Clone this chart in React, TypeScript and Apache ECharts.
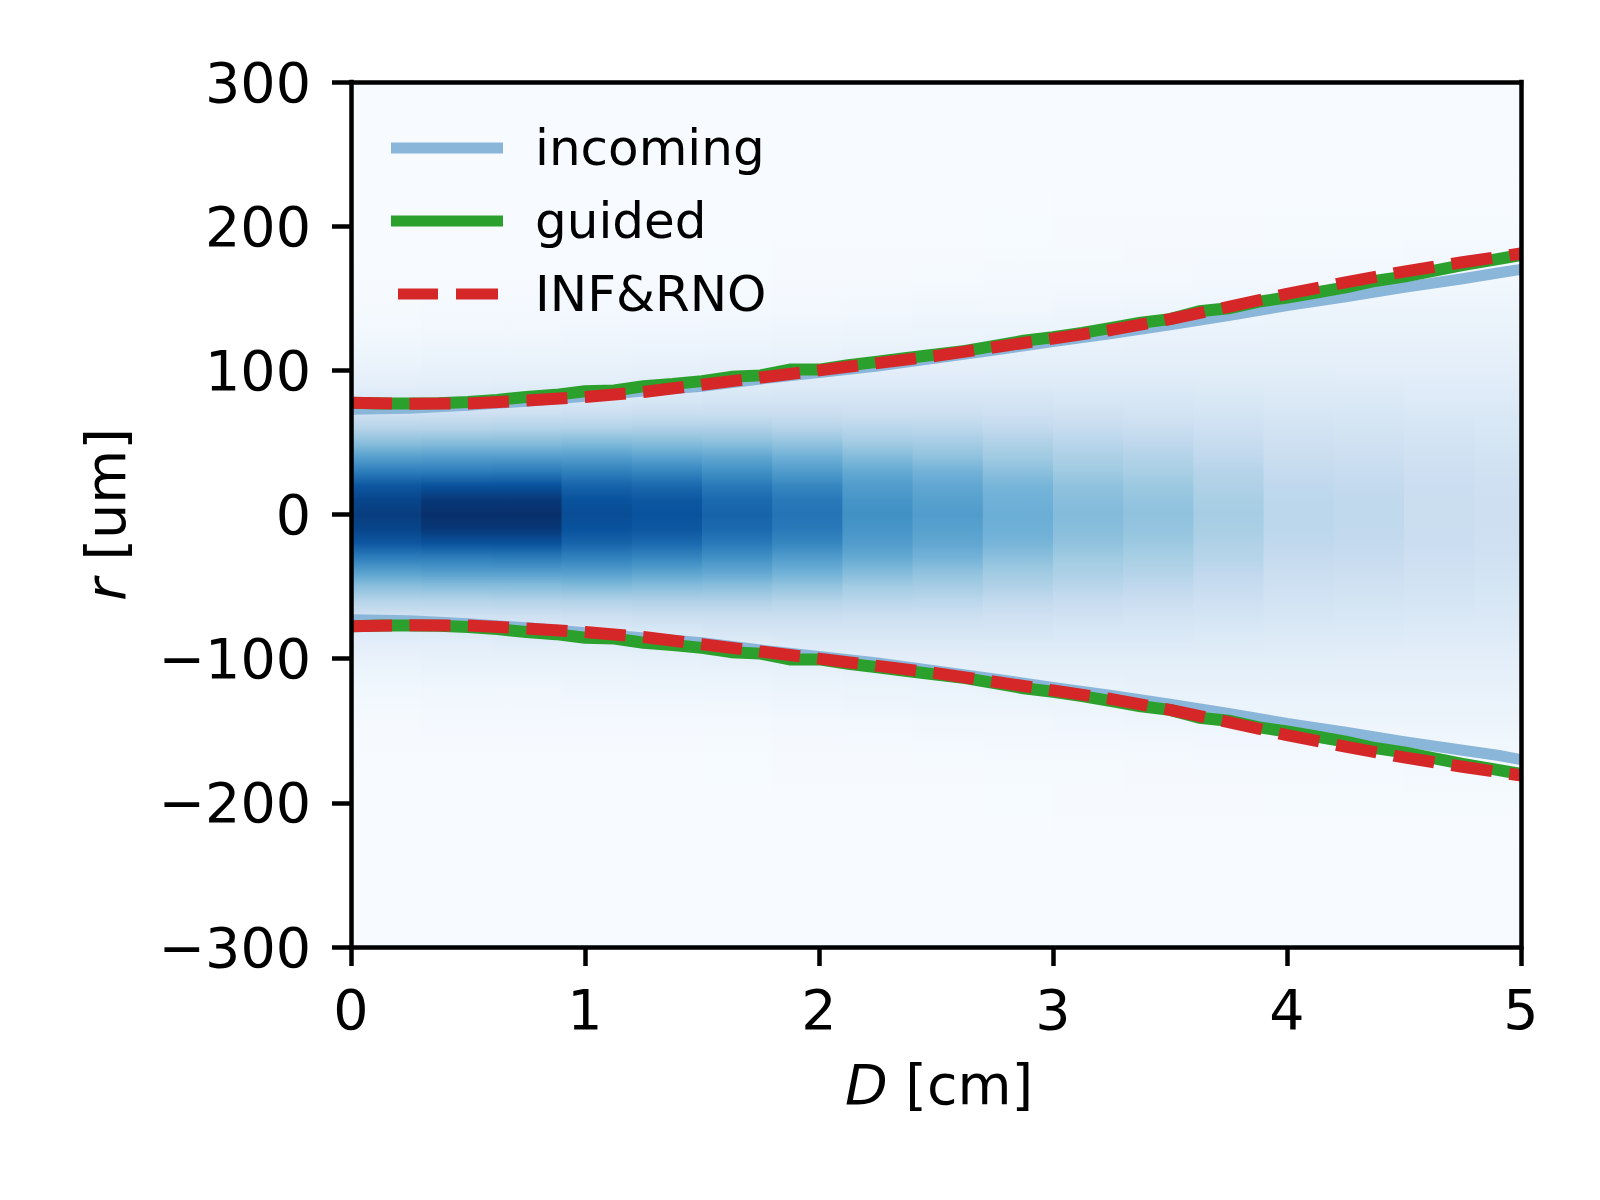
import React, { useEffect, useRef } from "react";
import * as echarts from "echarts";

const radii = [0, 10, 20, 30, 40, 50, 60, 70, 80, 90, 100, 120, 140, 160, 180, 200, 240, 300];
const columnWidth = 0.3;
const col00 = [0.95, 0.92, 0.85, 0.7, 0.56, 0.42, 0.3, 0.2, 0.14, 0.1, 0.07, 0.035, 0.015, 0.005, 0, 0, 0, 0];
const col01 = [1, 0.97, 0.87, 0.7, 0.57, 0.43, 0.3, 0.21, 0.15, 0.1, 0.08, 0.04, 0.02, 0.005, 0, 0, 0, 0];
const col02 = [1, 0.97, 0.87, 0.71, 0.57, 0.43, 0.31, 0.21, 0.15, 0.11, 0.08, 0.04, 0.02, 0.006, 0, 0, 0, 0];
const col03 = [0.89, 0.87, 0.8, 0.69, 0.57, 0.44, 0.31, 0.22, 0.15, 0.11, 0.08, 0.045, 0.02, 0.006, 0, 0, 0, 0];
const col04 = [0.87, 0.85, 0.78, 0.67, 0.55, 0.43, 0.32, 0.23, 0.16, 0.12, 0.085, 0.05, 0.02, 0.007, 0.002, 0, 0, 0];
const col05 = [0.8, 0.78, 0.72, 0.63, 0.53, 0.42, 0.32, 0.23, 0.17, 0.12, 0.09, 0.05, 0.025, 0.01, 0.003, 0, 0, 0];
const col06 = [0.74, 0.72, 0.67, 0.58, 0.49, 0.4, 0.3, 0.23, 0.17, 0.13, 0.095, 0.055, 0.03, 0.012, 0.004, 0, 0, 0];
const col07 = [0.63, 0.61, 0.58, 0.52, 0.44, 0.36, 0.29, 0.22, 0.17, 0.13, 0.1, 0.06, 0.035, 0.015, 0.005, 0.002, 0, 0];
const col08 = [0.58, 0.56, 0.53, 0.48, 0.41, 0.35, 0.28, 0.22, 0.17, 0.13, 0.1, 0.065, 0.04, 0.018, 0.006, 0.002, 0, 0];
const col09 = [0.5, 0.49, 0.47, 0.42, 0.37, 0.32, 0.26, 0.21, 0.17, 0.13, 0.105, 0.07, 0.04, 0.02, 0.008, 0.003, 0, 0];
const col10 = [0.44, 0.43, 0.41, 0.37, 0.33, 0.29, 0.24, 0.2, 0.16, 0.13, 0.105, 0.07, 0.045, 0.02, 0.01, 0.004, 0, 0];
const col11 = [0.41, 0.4, 0.38, 0.34, 0.31, 0.27, 0.23, 0.19, 0.16, 0.13, 0.105, 0.075, 0.05, 0.025, 0.012, 0.005, 0, 0];
const col12 = [0.35, 0.34, 0.32, 0.3, 0.27, 0.24, 0.21, 0.18, 0.15, 0.125, 0.105, 0.075, 0.05, 0.03, 0.014, 0.006, 0, 0];
const col13 = [0.28, 0.28, 0.27, 0.25, 0.23, 0.21, 0.19, 0.165, 0.14, 0.12, 0.105, 0.075, 0.055, 0.03, 0.016, 0.008, 0.001, 0];
const col14 = [0.265, 0.265, 0.255, 0.24, 0.22, 0.2, 0.18, 0.16, 0.14, 0.12, 0.1, 0.075, 0.055, 0.032, 0.018, 0.009, 0.001, 0];
const col15 = [0.23, 0.23, 0.225, 0.215, 0.2, 0.185, 0.17, 0.15, 0.13, 0.115, 0.1, 0.075, 0.055, 0.035, 0.02, 0.01, 0.002, 0];
const col16 = [0.215, 0.215, 0.21, 0.2, 0.19, 0.175, 0.16, 0.145, 0.13, 0.115, 0.1, 0.075, 0.055, 0.035, 0.02, 0.01, 0.002, 0];
const columns = [col00, col01, col02, col03, col04, col05, col06, col07, col08, col09, col10, col11, col12, col13, col14, col15, col16];
const blues = ["#f7fbff", "#deebf7", "#c6dbef", "#9ecae1", "#6baed6", "#4292c6", "#2171b5", "#08519c", "#08306b"];

const guidedD = [0, 0.125, 0.25, 0.375, 0.5, 0.625, 0.75, 0.875, 1, 1.125, 1.25, 1.375, 1.5, 1.625, 1.75, 1.875, 2, 2.125, 2.25, 2.375, 2.5, 2.625, 2.75, 2.875, 3, 3.125, 3.25, 3.375, 3.5, 3.625, 3.75, 3.875, 4, 4.125, 4.25, 4.375, 4.5, 4.625, 4.75, 4.875, 5];
const guidedUpper = [77.5, 77, 77, 77.2, 78, 79.5, 81.5, 83, 85.5, 86, 89, 90.5, 92.5, 95.5, 96.5, 100.5, 100.5, 103.5, 106, 108.5, 111, 113.5, 117, 120.5, 123, 126, 129.5, 133, 135.5, 141, 143, 147.5, 150.5, 154, 157.5, 162, 165, 169, 173, 176.5, 180];
const guidedLower = [-77.5, -77, -77, -77.2, -78, -79.5, -81.5, -83, -85.5, -86, -89, -90.5, -92.5, -95.5, -96.5, -100.5, -100.5, -103.5, -106, -108.5, -111, -113.5, -117, -120.5, -123, -126, -129.5, -133, -135.5, -141, -143, -147.5, -150.5, -154, -157.5, -162, -165, -169, -173, -176.5, -180];

const incomingD = [0, 0.25, 0.5, 0.75, 1, 1.25, 1.5, 1.75, 2, 2.25, 2.5, 2.75, 3, 3.25, 3.5, 3.75, 4, 4.25, 4.5, 4.75, 4.9, 5];
const incomingUpper = [73, 73.7, 75.8, 78.6, 82, 85.6, 89, 94, 98.5, 103, 108.5, 114, 120, 125.5, 131.5, 138, 145, 151, 157.5, 163.5, 167.5, 170];
const incomingLower = [-73, -73.7, -75.8, -78.6, -82, -85.6, -89, -94, -98.5, -103, -108.5, -114, -120, -125.5, -131.5, -138, -145, -151, -157.5, -163.5, -167, -170];

const infD = [0, 0.25, 0.5, 0.75, 1, 1.25, 1.5, 1.75, 2, 2.25, 2.5, 2.75, 3, 3.25, 3.5, 3.75, 4, 4.25, 4.5, 4.75, 5];
const infUpper = [77.5, 76.8, 77, 79, 81.5, 85, 90, 95, 100, 105, 110, 116, 122, 128, 135.5, 144, 153, 161, 168.5, 175, 181];
const infLower = [-77.5, -76.8, -77, -79, -81.5, -85, -90, -95, -100, -105, -110, -116, -122, -128, -135.5, -144, -153, -161, -168.5, -175, -181];

const xTicks = [0, 1, 2, 3, 4, 5];
const yTicks = [-300, -200, -100, 0, 100, 200, 300];

const FONT = "DejaVu Sans";
const BLACK = "#000000";
const SPINE = 4.5;
const solidIcon = "path://M0 0H112V11H0Z";
const dashedIcon = "path://M0 0L0 11Z M7 0H47V11H7Z M65 0H107V11H65Z M112 0L112 11Z";

function hex(c: string) {
  return [1, 3, 5].map((i) => parseInt(c.slice(i, i + 2), 16));
}
function shade(v: number) {
  const t = Math.max(0, Math.min(1, v)) * (blues.length - 1);
  const i = Math.min(blues.length - 2, Math.floor(t));
  const a = hex(blues[i]);
  const b = hex(blues[i + 1]);
  const f = t - i;
  const rgb = a.map((x, k) => Math.round(x + (b[k] - x) * f));
  return `rgb(${rgb[0]},${rgb[1]},${rgb[2]})`;
}
function stopsFor(profile: number[]) {
  const top = radii[radii.length - 1];
  const upper = radii.map((r, i) => ({ offset: (top - r) / (2 * top), color: shade(profile[i]) })).reverse();
  const lower = radii.slice(1).map((r, i) => ({ offset: (top + r) / (2 * top), color: shade(profile[i + 1]) }));
  return upper.concat(lower);
}
const pairs = (xs: number[], ys: number[]) => xs.map((x, i) => [x, ys[i]]);

const lineBase = { type: "line", showSymbol: false, symbol: "none", smooth: false, silent: true, xAxisIndex: 0, yAxisIndex: 0 };
const incomingStyle = { color: "#8ab6d9", width: 11, cap: "butt", join: "round" };
const guidedStyle = { color: "#2ca02c", width: 12, cap: "butt", join: "round" };
const infStyle = { color: "#d62728", width: 12, type: [41, 17.5], cap: "butt", join: "round" };

export default function App() {
  const ref = useRef<HTMLDivElement>(null);
  useEffect(() => {
    const chart = echarts.init(ref.current!, undefined, { renderer: "svg" });
    const frame = { show: true, onZero: false, lineStyle: { color: BLACK, width: SPINE, cap: "square" } };
    chart.setOption({
      animation: false,
      backgroundColor: "#ffffff",
      textStyle: { fontFamily: FONT },
      grid: { left: 351, right: 79, top: 82, bottom: 253, containLabel: false },
      legend: {
        left: 386,
        top: 118,
        orient: "vertical",
        itemWidth: 112,
        itemHeight: 50,
        itemGap: 23,
        symbolKeepAspect: true,
        data: [
          { name: "incoming", icon: solidIcon, itemStyle: { color: incomingStyle.color, borderWidth: 0 } },
          { name: "guided", icon: solidIcon, itemStyle: { color: guidedStyle.color, borderWidth: 0 } },
          { name: "INF&RNO", icon: dashedIcon, itemStyle: { color: infStyle.color, borderWidth: 0 } },
        ],
        textStyle: { fontFamily: FONT, fontSize: 50, color: BLACK, padding: [0, 0, 0, 27] },
        selectedMode: false,
      },
      xAxis: [
        {
          type: "value", min: 0, max: 5, interval: 1, position: "bottom", z: 10,
          axisLine: frame,
          axisTick: { show: true, length: 19, lineStyle: { color: BLACK, width: SPINE } },
          axisLabel: { fontFamily: FONT, fontSize: 55.5, color: BLACK, margin: 34, formatter: (v: number) => (xTicks.includes(v) ? String(v) : "") },
          splitLine: { show: false },
          name: "{i|D} [cm]",
          nameLocation: "middle",
          nameGap: 109,
          nameTextStyle: { fontFamily: FONT, fontSize: 55.5, color: BLACK, padding: [0, 0, 0, 6], rich: { i: { fontFamily: FONT, fontStyle: "italic", fontSize: 55.5, color: BLACK } } },
        },
        { type: "value", min: 0, max: 5, interval: 1, position: "top", z: 10, axisLine: frame, axisTick: { show: false }, axisLabel: { show: false }, splitLine: { show: false } },
      ],
      yAxis: [
        {
          type: "value", min: -300, max: 300, interval: 100, position: "left", z: 10,
          axisLine: frame,
          axisTick: { show: true, length: 19, lineStyle: { color: BLACK, width: SPINE } },
          axisLabel: { fontFamily: FONT, fontSize: 55.5, color: BLACK, margin: 40, formatter: (v: number) => (yTicks.includes(v) ? String(v).replace("-", "\u2212") : "") },
          splitLine: { show: false },
          name: "{i|r} [um]",
          nameLocation: "middle",
          nameGap: 218,
          nameRotate: 90,
          nameTextStyle: { fontFamily: FONT, fontSize: 55.5, color: BLACK, rich: { i: { fontFamily: FONT, fontStyle: "italic", fontSize: 55.5, color: BLACK } } },
        },
        { type: "value", min: -300, max: 300, interval: 100, position: "right", z: 10, axisLine: frame, axisTick: { show: false }, axisLabel: { show: false }, splitLine: { show: false } },
      ],
      series: [
        {
          type: "custom",
          name: "intensity",
          silent: true,
          clip: true,
          z: 1,
          xAxisIndex: 0,
          yAxisIndex: 0,
          encode: { x: [0, 1] },
          data: columns.map((_, i) => [i * columnWidth, Math.min(5, (i + 1) * columnWidth), i]),
          renderItem: (_p: any, api: any) => {
            const a = api.coord([api.value(0), 300]);
            const b = api.coord([api.value(1), -300]);
            const last = api.value(2) === columns.length - 1;
            return {
              type: "rect",
              shape: { x: a[0], y: a[1], width: b[0] - a[0] + (last ? 0 : 1), height: b[1] - a[1] },
              style: { fill: new echarts.graphic.LinearGradient(0, 0, 0, 1, stopsFor(columns[api.value(2)])) },
            };
          },
        },
        { ...lineBase, name: "incoming", z: 3, lineStyle: incomingStyle, itemStyle: { color: incomingStyle.color }, data: pairs(incomingD, incomingUpper) },
        { ...lineBase, name: "incoming", z: 3, lineStyle: incomingStyle, itemStyle: { color: incomingStyle.color }, data: pairs(incomingD, incomingLower) },
        { ...lineBase, name: "guided", z: 4, lineStyle: guidedStyle, itemStyle: { color: guidedStyle.color }, data: pairs(guidedD, guidedUpper) },
        { ...lineBase, name: "guided", z: 4, lineStyle: guidedStyle, itemStyle: { color: guidedStyle.color }, data: pairs(guidedD, guidedLower) },
        { ...lineBase, name: "INF&RNO", z: 5, lineStyle: infStyle, itemStyle: { color: infStyle.color }, data: pairs(infD, infUpper) },
        { ...lineBase, name: "INF&RNO", z: 5, lineStyle: infStyle, itemStyle: { color: infStyle.color }, data: pairs(infD, infLower) },
      ],
    });
    return () => chart.dispose();
  }, []);
  return <div ref={ref} style={{ position: "absolute", left: 0, top: 0, width: 1600, height: 1200 }} />;
}
